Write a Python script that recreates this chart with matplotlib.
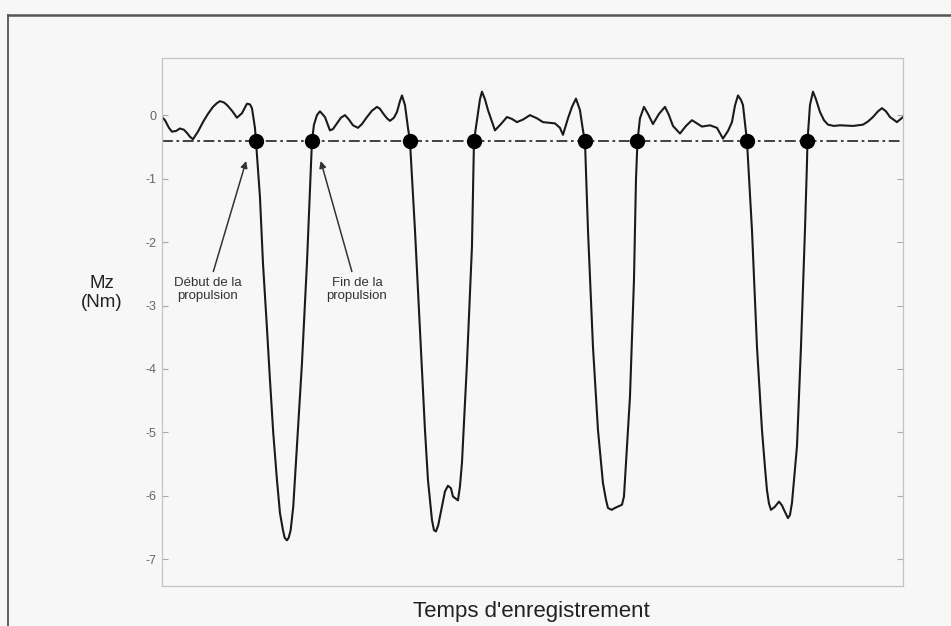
import matplotlib
matplotlib.use("Agg")
import matplotlib.pyplot as plt
from matplotlib.lines import Line2D

# recording time (arbitrary units) and yaw moment Mz (Nm)
t = [0, 3, 7, 10, 14, 18, 22, 25, 28, 31, 36, 41, 46, 51, 55, 58, 62, 65, 70, 75, 80, 85, 88, 90, 93, 94,
     98, 101, 104.7, 108, 111.3, 115, 118, 121, 122.7, 125, 126.7, 128.7, 131.3, 134, 137, 140, 145, 148, 150,
     152, 155, 158, 163, 168, 171, 175, 179, 183, 187, 191, 196, 200, 205, 210, 215, 218, 221, 225, 228,
     232, 235, 238, 240, 243, 246, 248,
     253, 258, 263, 266, 270, 272, 274, 276.3, 280, 283, 286, 289, 291, 296, 298, 300, 305, 310, 312,
     315, 318, 320, 323, 326, 333, 339, 345, 350, 355, 361, 368, 375, 381, 393, 398, 401, 406, 410, 414,
     418, 421, 423,
     426, 431, 436, 441, 444, 446, 449.7, 453, 460, 462, 463, 468, 472, 474, 475.5,
     478, 482, 486, 491, 497, 503, 507, 511, 518, 524, 530, 535, 540, 548, 555, 561, 566, 570, 573, 576,
     579, 581, 584, 585,
     590, 595, 600, 603, 605, 607, 609, 613, 617, 620, 622, 626, 628, 630, 635, 639, 643, 645, 645.5,
     648, 651, 654, 658, 662, 666, 672, 678, 691, 701, 706, 711, 716, 720, 724, 728, 735, 741]
mz = [-0.03, -0.08, -0.20, -0.26, -0.25, -0.21, -0.23, -0.28, -0.34, -0.38, -0.26, -0.11, 0.02, 0.13, 0.19, 0.22,
      0.20, 0.16, 0.07, -0.04, 0.03, 0.18, 0.17, 0.11, -0.20, -0.41,
      -1.29, -2.33, -3.28, -4.17, -5.01, -5.75, -6.27, -6.54, -6.66, -6.70, -6.66, -6.54, -6.17, -5.48, -4.69,
      -3.91, -2.33, -1.18, -0.41,
      -0.15, 0.00, 0.06, -0.03, -0.24, -0.22, -0.13, -0.04, 0.00, -0.07, -0.16, -0.20, -0.14, -0.03, 0.07,
      0.13, 0.10, 0.03, -0.05, -0.09,
      -0.04, 0.05, 0.22, 0.31, 0.16, -0.20, -0.41,
      -1.81, -3.40, -4.96, -5.75, -6.38, -6.54, -6.56, -6.46, -6.17, -5.93, -5.84, -5.88, -6.01, -6.07, -5.85,
      -5.48, -3.91, -2.07, -0.41,
      -0.08, 0.25, 0.37, 0.25, 0.08, -0.24, -0.14, -0.03, -0.06, -0.11, -0.07, 0.00, -0.05, -0.11, -0.13,
      -0.20, -0.31, -0.05, 0.13, 0.26,
      0.08, -0.24, -0.41,
      -1.81, -3.65, -4.96, -5.80, -6.06, -6.19, -6.22, -6.19, -6.14, -6.01, -5.75, -4.44, -2.60, -1.02, -0.41,
      -0.05, 0.13, 0.02, -0.14, 0.02, 0.13, 0.00, -0.17, -0.29, -0.17, -0.08, -0.13, -0.18, -0.16, -0.20,
      -0.37, -0.25, -0.11, 0.15, 0.31,
      0.24, 0.16, -0.26, -0.41,
      -1.81, -3.65, -4.96, -5.55, -5.91, -6.12, -6.22, -6.17, -6.09, -6.15, -6.22, -6.35, -6.30, -6.11, -5.22,
      -3.65, -1.81, -0.76, -0.41,
      0.16, 0.37, 0.25, 0.05, -0.08, -0.15, -0.17, -0.16, -0.17, -0.15, -0.10, -0.03, 0.06, 0.11, 0.06,
      -0.03, -0.11, -0.03]

# start / end of each propulsion phase (threshold crossings)
t_cross = [94, 150, 248, 312, 423, 475.5, 585, 645.5]
seuil = -0.41
yticks = [0, -1, -2, -3, -4, -5, -6, -7]

bg = '#f7f7f7'
fig = plt.figure(figsize=(9.51, 6.26), dpi=100, facecolor=bg)
plt.rcParams['font.family'] = ['Liberation Sans', 'DejaVu Sans']
ax = fig.add_axes([0.1703, 0.0639, 0.7792, 0.8434], facecolor=bg)

ax.axhline(seuil, color='#333333', lw=1.3, ls=(0, (6, 2, 1.5, 2)))
ax.plot(t, mz, color='#1a1a1a', lw=1.5, solid_joinstyle='round')
ax.plot(t_cross, [seuil] * len(t_cross), 'o', color='black', ms=10)

ax.set_xlim(0, 741)
ax.set_ylim(-7.42, 0.9)
ax.set_xticks([])
ax.set_yticks(yticks)
ax.set_yticklabels([str(v) for v in yticks], color='#666666', fontsize=9)
ax.tick_params(axis='y', direction='in', length=4, color='#aaaaaa', right=True, pad=4)
for s in ax.spines.values():
    s.set_color('#c4c4c4'); s.set_linewidth(0.9)

arrow = dict(arrowstyle='-|>', color='#333333', lw=1.1, mutation_scale=10)
ax.annotate('Début de la\npropulsion', xy=(85, -0.68), xytext=(46, -2.55),
            ha='center', va='top', fontsize=9.5, color='#333333', linespacing=1.15,
            arrowprops=arrow)
ax.annotate('Fin de la\npropulsion', xy=(158, -0.68), xytext=(195, -2.55),
            ha='center', va='top', fontsize=9.5, color='#333333', linespacing=1.15,
            arrowprops=arrow)

fig.text(102 / 951, 1 - 293 / 626, 'Mz\n(Nm)', ha='center', va='center',
         fontsize=13.5, color='#222222', linespacing=1.2)
fig.text(531 / 951, 1 - 612 / 626, "Temps d'enregistrement", ha='center', va='center',
         fontsize=16, color='#222222')

# outer frame of the figure
fig.add_artist(Line2D([8 / 951, 1], [1 - 15 / 626] * 2, color='#555555', lw=1.8))
fig.add_artist(Line2D([8 / 951] * 2, [0, 1 - 15 / 626], color='#555555', lw=1.3))

fig.savefig('out.png', dpi=100, facecolor=bg)
